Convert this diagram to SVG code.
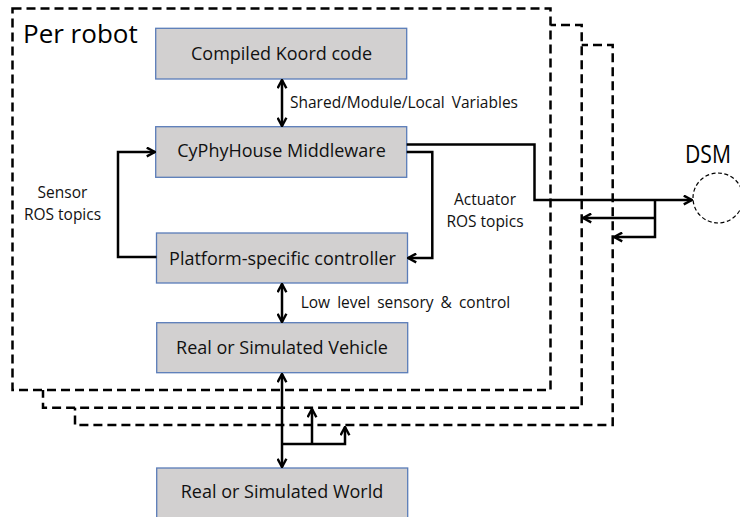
<svg xmlns="http://www.w3.org/2000/svg" width="740" height="517" viewBox="0 0 740 517">
<style>
.frame{fill:#fff;stroke:#000;stroke-width:2.5;stroke-dasharray:9 5}
.box{fill:#d2d0d0;stroke:#5a7cb8;stroke-width:1.3}
.btxt{font-family:"Open Sans","Liberation Sans",sans-serif;font-size:18px;fill:#111;text-anchor:middle}
.lbl{font-family:"Open Sans","Liberation Sans",sans-serif;font-size:15.5px;fill:#111}
.big{font-family:"Open Sans","Liberation Sans",sans-serif;font-size:26px;fill:#000}
.con{fill:none;stroke:#000;stroke-width:2.5}
</style>
<defs>
<marker id="ah" viewBox="0 0 10 10" refX="9" refY="5" markerWidth="11" markerHeight="11" markerUnits="userSpaceOnUse" orient="auto-start-reverse">
<path d="M1.5,1 L9,5 L1.5,9" fill="none" stroke="#000" stroke-width="2.2"/>
</marker>
</defs>
<rect width="740" height="517" fill="#fff"/>
<g id="frames">
<rect class="frame" x="75" y="45" width="537.7" height="380"/>
<rect class="frame" x="43" y="25" width="538.7" height="382.7"/>
<rect class="frame" x="12.5" y="8.5" width="538" height="381.5"/>
<text class="big" x="23" y="43">Per robot</text>
</g>
<g id="compiled">
<rect class="box" x="155.7" y="28.3" width="251" height="50.7"/>
<text class="btxt" x="281.5" y="60">Compiled Koord code</text>
</g>
<g id="middleware">
<rect class="box" x="155.7" y="126.7" width="251" height="50.6"/>
<text class="btxt" x="281.5" y="157">CyPhyHouse Middleware</text>
</g>
<g id="platform">
<rect class="box" x="156.5" y="233" width="251" height="50"/>
<text class="btxt" x="282.5" y="265">Platform-specific controller</text>
</g>
<g id="vehicle">
<rect class="box" x="156.7" y="322.7" width="251" height="50"/>
<text class="btxt" x="282" y="354">Real or Simulated Vehicle</text>
</g>
<g id="world">
<rect class="box" x="156.7" y="468" width="251" height="60"/>
<text class="btxt" x="282" y="498">Real or Simulated World</text>
</g>
<g id="dsm">
<circle cx="718" cy="198" r="25" fill="none" stroke="#000" stroke-width="1.2" stroke-dasharray="4 2.5"/>
<text class="big" x="685" y="163.3" textLength="46" lengthAdjust="spacingAndGlyphs">DSM</text>
</g>
<g id="connectors">
<path class="con" d="M282,80 V126" marker-start="url(#ah)" marker-end="url(#ah)"/>
<path class="con" d="M282,284 V322" marker-start="url(#ah)" marker-end="url(#ah)"/>
<path class="con" d="M282,374 V467" marker-start="url(#ah)" marker-end="url(#ah)"/>
<path class="con" d="M282,444 H345 V427" marker-end="url(#ah)"/>
<path class="con" d="M312,444 V409" marker-end="url(#ah)"/>
<path class="con" d="M156.5,257 H118 V152 H155" marker-end="url(#ah)"/>
<path class="con" d="M406.7,152 H432.3 V258 H408" marker-end="url(#ah)"/>
<path class="con" d="M406.7,144.5 H534.5 V200 H692" marker-end="url(#ah)"/>
<path class="con" d="M655,200 V237 H614" marker-end="url(#ah)"/>
<path class="con" d="M655,218 H583" marker-end="url(#ah)"/>
</g>
<g id="labels">
<text class="lbl" x="290" y="108" word-spacing="3">Shared/Module/Local Variables</text>
<text class="lbl" x="62.5" y="198" text-anchor="middle">Sensor</text>
<text class="lbl" x="62.5" y="219.5" text-anchor="middle">ROS topics</text>
<text class="lbl" x="485" y="205" text-anchor="middle">Actuator</text>
<text class="lbl" x="485" y="226.5" text-anchor="middle">ROS topics</text>
<text class="lbl" x="300.7" y="308" word-spacing="3">Low level sensory &amp; control</text>
</g>
</svg>
